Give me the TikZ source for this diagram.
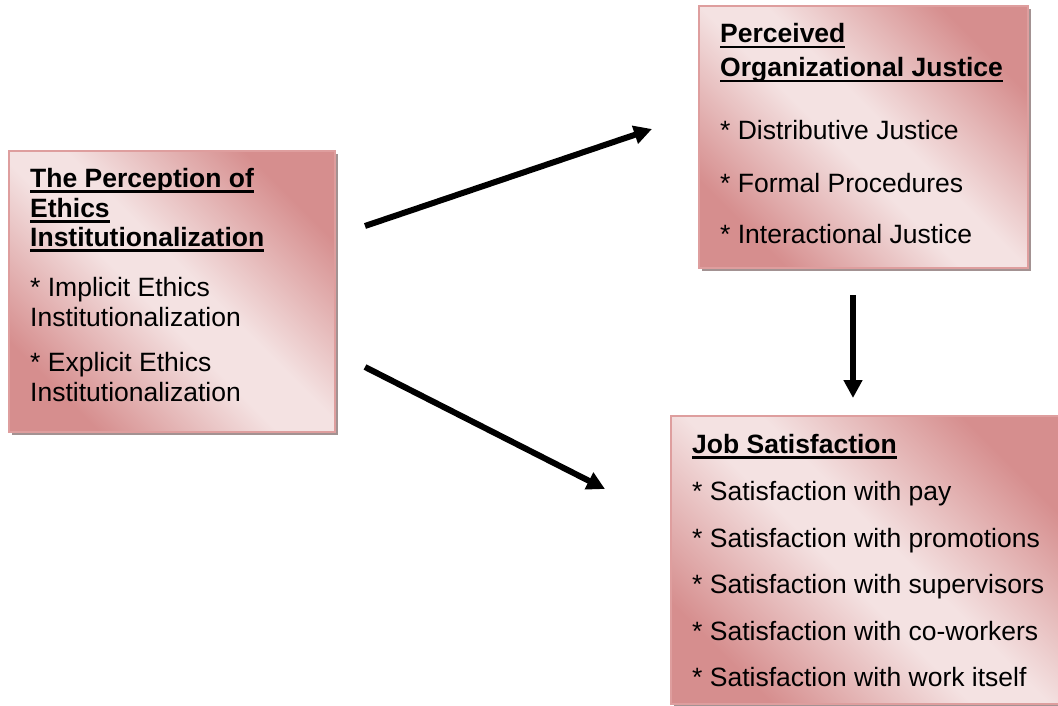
\documentclass[tikz,border=0pt]{standalone}
\usepackage{fontspec}
\setmainfont{Liberation Sans}
\usetikzlibrary{arrows.meta,shadows}

\definecolor{boxdark}{HTML}{D68E8E}
\definecolor{boxlight}{HTML}{F4E2E2}
\definecolor{boxedge}{HTML}{DE9E9E}
\definecolor{boxshadow}{HTML}{A39292}

% diagonal rose gradient: dark at two opposite corners, a pale band between
\pgfdeclareverticalshading{panelshade}{100bp}{%
  color(0bp)=(boxdark); color(25bp)=(boxdark); color(46bp)=(boxlight);
  color(54bp)=(boxlight); color(75bp)=(boxdark); color(100bp)=(boxdark)}

% bold heading with a heavy underline at a fixed depth
\newcommand\headline[1]{\setbox0\hbox{#1}\rlap{\rule[-5.5pt]{\wd0}{2.8pt}}\box0}

\tikzset{
  panel/.style={draw=boxedge, line width=2pt, inner sep=0pt, anchor=north west,
    shading=panelshade, shading angle=-45,
    drop shadow={shadow xshift=3pt, shadow yshift=-3pt, fill=boxshadow, opacity=1}},
  linetext/.style={anchor=base west, inner sep=0pt, font=\fontsize{26.5}{30}\selectfont},
  headtext/.style={linetext, font=\fontsize{26.5}{30}\selectfont\bfseries},
  link/.style={line width=6pt, -{Triangle[length=18pt,width=18pt]}}
}

\begin{document}
\begin{tikzpicture}[x=1pt, y=-1pt]
\useasboundingbox (0,0) rectangle (1058,706);

% the three concept boxes
\node[panel, minimum width=326pt, minimum height=281pt] (ethics) at (8,150) {};
\node[panel, minimum width=329pt, minimum height=262pt] (justice) at (698,5) {};
\node[panel, minimum width=392pt, minimum height=288pt] (job) at (670,415) {};

% The Perception of Ethics Institutionalization
\foreach \y/\t [count=\i] in {187/The Perception of, 217/Ethics, 246/Institutionalization}
  \node[headtext] (eh\i) at (30,\y) {\headline{\t}};
\foreach \y/\t [count=\i] in {296/* Implicit Ethics, 326/Institutionalization,
                              371/* Explicit Ethics, 401/Institutionalization}
  \node[linetext] (ei\i) at (30,\y) {\t};

% Perceived Organizational Justice
\foreach \y/\t [count=\i] in {43/Perceived, 77/Organizational Justice}
  \node[headtext] (jh\i) at (720,\y) {\headline{\t}};
\foreach \y/\t [count=\i] in {140/* Distributive Justice, 193/* Formal Procedures,
                              243/* Interactional Justice}
  \node[linetext] (ji\i) at (720,\y) {\t};

% Job Satisfaction
\node[headtext] (sh1) at (692,453) {\headline{Job Satisfaction}};
\foreach \y/\t [count=\i] in {500/* Satisfaction with pay, 547/* Satisfaction with promotions,
                              593/* Satisfaction with supervisors, 640/* Satisfaction with co-workers,
                              686/* Satisfaction with work itself}
  \node[linetext] (si\i) at (692,\y) {\t};

% connectors
\coordinate (a1s) at (365,226);
\coordinate (a1e) at (652,129);
\coordinate (a2s) at (365,367);
\coordinate (a2e) at (605,489);
\coordinate (a3s) at (853,295);
\coordinate (a3e) at (853,398);
\draw[link] (a1s) -- (a1e);
\draw[link] (a2s) -- (a2e);
\draw[link] (a3s) -- (a3e);
\end{tikzpicture}
\end{document}
